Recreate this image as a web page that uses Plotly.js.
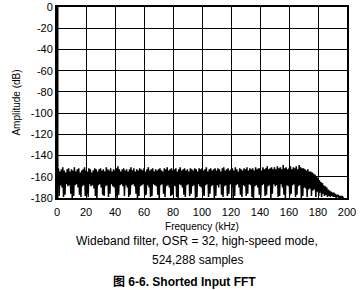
<!DOCTYPE html>
<html>
<head>
<meta charset="utf-8">
<script src="https://cdn.plot.ly/plotly-3.0.1.min.js"></script>
<style>html,body{margin:0;padding:0;background:#fff;}#chart{width:363px;height:290px;}</style>
</head>
<body>
<div id="chart"></div>
<script>
// FFT noise floor: peak values (dB) per 1 kHz bin, and dips between them
var peakDb = [
-154,-152,-155,-153,-151,-154,-156,-153,-152,-155,
-153,-154,-151,-155,-153,-152,-156,-154,-153,-151,
-154,-155,-152,-153,-156,-154,-152,-153,-155,-153,
-152,-154,-153,-155,-151,-153,-154,-152,-155,-153,
-154,-152,-150,-153,-155,-153,-152,-154,-153,-155,
-153,-151,-154,-152,-155,-153,-154,-152,-153,-154,
-152,-155,-153,-151,-154,-153,-152,-155,-153,-154,
-153,-152,-154,-155,-152,-153,-151,-154,-153,-152,
-154,-153,-152,-155,-153,-151,-154,-153,-152,-154,
-153,-155,-152,-153,-154,-152,-153,-155,-152,-153,
-152,-154,-153,-151,-155,-153,-152,-154,-153,-152,
-154,-152,-153,-155,-152,-151,-154,-153,-152,-154,
-153,-152,-154,-151,-153,-155,-152,-153,-154,-152,
-153,-151,-154,-152,-153,-152,-154,-151,-153,-152,
-152,-154,-151,-153,-152,-150,-153,-152,-151,-153,
-151,-153,-150,-152,-151,-153,-149,-152,-151,-153,
-152,-150,-153,-151,-152,-150,-153,-149,-151,-152,
-152,-153,-154,-153,-155,-155,-156,-157,-158,-160,
-161,-163,-165,-166,-168,-169,-170,-172,-173,-174,
-175,-175,-176,-177,-177,-178,-178,-179
];
var dipDb = [
-169,-178,-168,-170,-179,-177,-167,-169,-168,-176,
-180,-178,-168,-167,-170,-177,-179,-169,-168,-178,
-176,-179,-167,-169,-168,-171,-178,-180,-168,-167,
-170,-177,-178,-169,-168,-179,-176,-167,-169,-170,
-178,-180,-177,-168,-167,-169,-178,-168,-170,-179,
-177,-168,-167,-169,-176,-180,-178,-169,-168,-167,
-178,-177,-168,-170,-179,-178,-167,-168,-169,-177,
-180,-168,-167,-176,-179,-169,-168,-170,-178,-177,
-168,-169,-179,-180,-167,-168,-170,-177,-179,-168,
-167,-178,-176,-169,-168,-180,-179,-167,-169,-170,
-177,-178,-168,-167,-179,-176,-169,-168,-180,-178,
-168,-170,-167,-177,-179,-169,-168,-178,-176,-167,
-169,-180,-178,-168,-167,-170,-177,-179,-168,-169,
-178,-176,-167,-168,-179,-180,-169,-168,-170,-177,
-179,-168,-167,-178,-177,-169,-168,-180,-176,-167,
-169,-168,-179,-178,-167,-170,-177,-180,-168,-169,
-178,-176,-168,-167,-179,-177,-169,-168,-180,-178,
-170,-171,-179,-172,-171,-178,-173,-172,-179,-174,
-178,-175,-179,-176,-178,-177,-179,-178,-179,-178,
-179,-179,-180,-179,-180,-180,-180,-180
];
var binStartKHz = 0;
var binStepKHz = 1;
var xTicks = [0,20,40,60,80,100,120,140,160,180,200];
var yTicks = [0,-20,-40,-60,-80,-100,-120,-140,-160,-180];
var captionLines = ["Wideband filter, OSR = 32, high-speed mode,", "524,288 samples"];
var figureTitle = "图 6-6. Shorted Input FFT";

var xs = [], ys = [];
for (var i = 0; i < peakDb.length; i++) {
  var f = binStartKHz + i * binStepKHz;
  xs.push(f); ys.push(peakDb[i]);
  xs.push(f + binStepKHz / 2); ys.push(dipDb[i]);
}

var font = "Liberation Sans, Arial, Noto Sans CJK SC, sans-serif";
var trace = {x: xs, y: ys, type: "scatter", mode: "lines",
  line: {color: "#000", width: 1.5, simplify: false}, hoverinfo: "skip"};

var layout = {
  width: 363, height: 290,
  margin: {l: 57, r: 16, t: 7, b: 92},
  paper_bgcolor: "#fff", plot_bgcolor: "#fff",
  showlegend: false,
  font: {family: font, color: "#000", size: 11},
  xaxis: {range: [0, 200], tickvals: xTicks, ticktext: xTicks.map(String),
    showgrid: true, gridcolor: "#000", gridwidth: 1,
    showline: true, linecolor: "#000", linewidth: 2, mirror: true,
    zeroline: false, ticks: "", ticklen: 0, ticklabelstandoff: 3,
    tickfont: {size: 11, color: "#000"},
    title: {text: "Frequency (kHz)", font: {size: 10, color: "#000"}, standoff: 6}},
  yaxis: {range: [-180, 0], tickvals: yTicks, ticktext: yTicks.map(String),
    showgrid: true, gridcolor: "#000", gridwidth: 1,
    showline: true, linecolor: "#000", linewidth: 2, mirror: true,
    zeroline: false, ticks: "", ticklen: 0,
    tickfont: {size: 11, color: "#000"},
    title: {text: "Amplitude (dB)", font: {size: 10, color: "#000"}, standoff: 8}},
  shapes: [{type: "line", xref: "x", yref: "paper", x0: 0, x1: 0, y0: 0, y1: 1,
    line: {color: "#000", width: 3}}],
  annotations: [
    {text: captionLines[0], xref: "paper", yref: "paper", x: 0.483, y: -0.225,
     showarrow: false, xanchor: "center", yanchor: "middle", font: {size: 12, color: "#000"}},
    {text: captionLines[1], xref: "paper", yref: "paper", x: 0.485, y: -0.325,
     showarrow: false, xanchor: "center", yanchor: "middle", font: {size: 12, color: "#000"}},
    {text: "<b>" + figureTitle + "</b>", xref: "paper", yref: "paper", x: 0.441, y: -0.44,
     showarrow: false, xanchor: "center", yanchor: "middle", font: {size: 12, color: "#000"}}
  ]
};

Plotly.newPlot("chart", [trace], layout, {staticPlot: true, displayModeBar: false});
</script>
</body>
</html>
